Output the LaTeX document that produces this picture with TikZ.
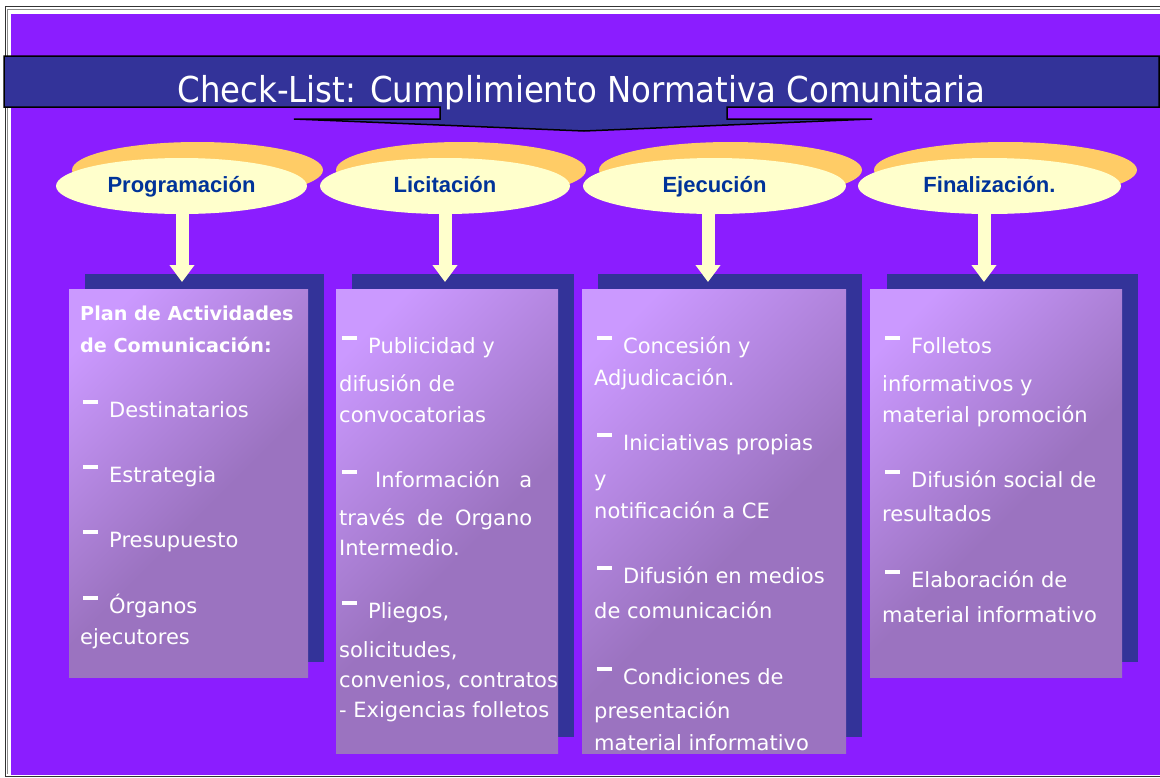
\documentclass[tikz,border=0pt]{standalone}
\usepackage{fontspec}
\usepackage{graphicx}
\usetikzlibrary{arrows.meta,shapes.geometric}
\newfontfamily\comic{DejaVu Sans}
\newfontfamily\arialf{Liberation Sans}
\definecolor{bgpurple}{HTML}{8B1DFF}
\definecolor{dblue}{HTML}{333399}
\definecolor{orng}{HTML}{FFCC66}
\definecolor{ylw}{HTML}{FFFFCC}
\definecolor{lblue}{HTML}{003399}
\definecolor{blight}{HTML}{CB99FF}
\definecolor{bdark}{HTML}{9B73C0}
\pgfdeclareverticalshading{boxsh}{100bp}{color(0bp)=(bdark); color(45bp)=(bdark); color(78bp)=(blight); color(100bp)=(blight)}
\newlength\titlew
\newcommand\bodyf{\comic\fontsize{21}{24}\selectfont}
\newcommand\boldf{\comic\bfseries\fontsize{19.2}{23}\selectfont}
\newcommand\bul{\hspace*{3pt}\rule[13pt]{15pt}{4.5pt}\hspace*{11pt}}
\newcommand\fittitle[2]{\settowidth\titlew{#2}\pgfmathsetmacro\tsx{#1/\titlew}\scalebox{\tsx}[1]{#2}}
\tikzset{
  shadowbox/.style={fill=dblue, draw=none},
  frontbox/.style={shading=boxsh, shading angle=45, draw=none, inner sep=0, anchor=north west},
  backell/.style={ellipse, fill=orng, inner sep=0, minimum height=56pt},
  frontell/.style={ellipse, fill=ylw, inner sep=0, minimum height=56pt, text=lblue,
     font=\arialf\bfseries\fontsize{22}{26}\selectfont, text height=16pt, text depth=4pt},
  txt/.style={anchor=base west, text=white, font=\bodyf, inner sep=0},
  btxt/.style={anchor=base west, text=white, font=\boldf, inner sep=0},
  yarrow/.style={draw=ylw, line width=13pt, -{Triangle[width=24pt,length=17pt]}},
  banner/.style={fill=dblue, draw=black, line width=1.5pt, line join=miter}
}
\begin{document}
\begin{tikzpicture}[x=1pt,y=-1pt]
\useasboundingbox (0,0) rectangle (1160,777);
\fill[white] (0,0) rectangle (1160,777);
% frame
\draw[line width=1pt, black!80] (1160,6.5) -- (5,6.5) -- (5,776.5) -- (1160,776.5);
\draw[line width=0.8pt, black!45] (1160,9) -- (7.5,9) -- (7.5,774);
\fill[bgpurple] (11,14) rectangle (1162,775);
% title banner with arrow
\draw[banner] (4,56) -- (1159,56) -- (1159,107) -- (727,107) -- (727,119) -- (872,119)
   -- (584,131) -- (294,119) -- (440,119) -- (440,107) -- (4,107) -- cycle;
\node[anchor=base, inner sep=0, text=white, font=\comic\fontsize{35.7}{40}\selectfont] (title) at (581.5,102)
  {\fittitle{808}{Check-List: Cumplimiento Normativa Comunitaria}};
% shadow boxes
\fill[shadowbox] (85,274) rectangle (324,662);
\fill[shadowbox] (352,274) rectangle (574,737);
\fill[shadowbox] (598,274) rectangle (862,737);
\fill[shadowbox] (887,274) rectangle (1138,662);
% front boxes
\node[frontbox, minimum width=239pt, minimum height=388pt] (b1) at (69,289) {};
\node[frontbox, minimum width=222pt, minimum height=464pt] (b2) at (336,289) {};
\node[frontbox, minimum width=264pt, minimum height=464pt] (b3) at (582,289) {};
\node[frontbox, minimum width=252pt, minimum height=388pt] (b4) at (870,289) {};
% box 1 text
\node[btxt] (p1) at (80,320) {Plan de Actividades};
\node[btxt] (p2) at (80,352) {de Comunicación:};
\node[txt] (p3) at (80,417) {\bul Destinatarios};
\node[txt] (p4) at (80,482) {\bul Estrategia};
\node[txt] (p5) at (80,547) {\bul Presupuesto};
\node[txt] (p6) at (80,613) {\bul Órganos};
\node[txt] (p7) at (80,644) {ejecutores};
% box 2 text
\node[txt] (l1) at (339,353) {\bul Publicidad y};
\node[txt] (l2) at (339,391) {difusión de};
\node[txt] (l3) at (339,422) {convocatorias};
\node[txt] (l4) at (339,487) {\makebox[193pt][l]{\bul\hspace*{7pt}Información\hfill a}};
\node[txt] (l5) at (339,525) {\makebox[193pt][s]{través de Organo}};
\node[txt] (l6) at (339,555) {Intermedio.};
\node[txt] (l7) at (339,618) {\bul Pliegos,};
\node[txt] (l8) at (339,657) {solicitudes,};
\node[txt] (l9) at (339,687) {convenios, contratos};
\node[txt] (l10) at (339,717) {- Exigencias folletos};
% box 3 text
\node[txt] (e1t) at (594,353) {\bul Concesión y};
\node[txt] (e2t) at (594,385) {Adjudicación.};
\node[txt] (e3t) at (594,450) {\bul Iniciativas propias};
\node[txt] (e4t) at (594,486) {y};
\node[txt] (e5t) at (594,518) {notificación a CE};
\node[txt] (e6t) at (594,583) {\bul Difusión en medios};
\node[txt] (e7t) at (594,618) {de comunicación};
\node[txt] (e8t) at (594,684) {\bul Condiciones de};
\node[txt] (e9t) at (594,718) {presentación};
\node[txt] (e10t) at (594,750) {material informativo};
% box 4 text
\node[txt] (f1) at (882,353) {\bul Folletos};
\node[txt] (f2) at (882,391) {informativos y};
\node[txt] (f3) at (882,422) {material promoción};
\node[txt] (f4) at (882,487) {\bul Difusión social de};
\node[txt] (f5) at (882,521) {resultados};
\node[txt] (f6) at (882,587) {\bul Elaboración de};
\node[txt] (f7) at (882,622) {material informativo};
% ellipses
\node[backell, minimum width=251pt] (k1) at (197.5,170) {};
\node[backell, minimum width=250pt] (k2) at (461,170) {};
\node[backell, minimum width=263pt] (k3) at (730.5,170) {};
\node[backell, minimum width=263pt] (k4) at (1005.5,170) {};
\node[frontell, minimum width=251pt] (e1) at (181.5,186) {Programación};
\node[frontell, minimum width=250pt] (e2) at (445,186) {Licitación};
\node[frontell, minimum width=263pt] (e3) at (714.5,186) {Ejecución};
\node[frontell, minimum width=263pt] (e4) at (989.5,186) {Finalización.};
% yellow arrows
\coordinate (a1) at (182,282);
\coordinate (a2) at (445,282);
\coordinate (a3) at (708,282);
\coordinate (a4) at (984,282);
\draw[yarrow] (a1 |- e1.south) -- (a1);
\draw[yarrow] (a2 |- e2.south) -- (a2);
\draw[yarrow] (a3 |- e3.south) -- (a3);
\draw[yarrow] (a4 |- e4.south) -- (a4);
\end{tikzpicture}
\end{document}
